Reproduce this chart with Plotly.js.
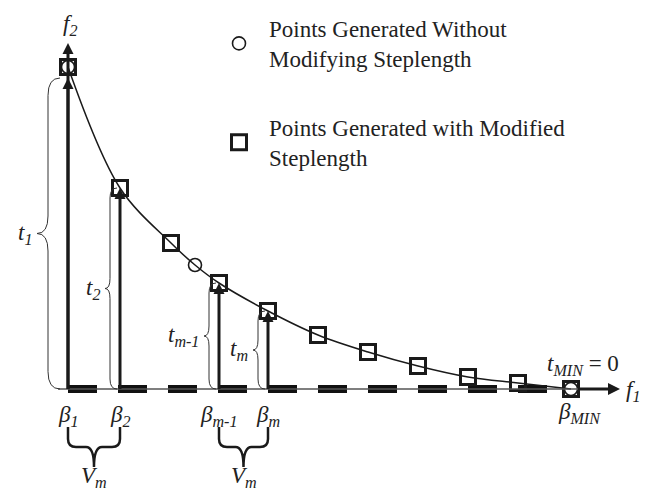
<!DOCTYPE html>
<html>
<head>
<meta charset="utf-8">
<script src="https://cdn.plot.ly/plotly-3.0.1.min.js"></script>
<style>html,body{margin:0;padding:0;background:#fff;}#chart{width:662px;height:490px;}</style>
</head>
<body>
<div id="chart"></div>
<script>
// ---- data (f1, f2 in diagram units) ----
const squareF1 = [0, 1.04, 2.06, 3.02, 4.0, 5.0, 6.0, 7.0, 8.0, 9.0, 10.06];
const squareF2 = [6.44, 4.02, 2.92, 2.12, 1.56, 1.08, 0.74, 0.46, 0.24, 0.12, 0];
const circleF1 = [0, 2.54, 10.06];
const circleF2 = [6.44, 2.48, 0];
const betaDashStart = [0, 1, 2, 3, 4, 5, 6, 7, 8, 9];
const betaDashLen = 0.58;
const arrowIdx = [0, 1, 3, 4];
const betaLabels = ['β<sub>1</sub>', 'β<sub>2</sub>', 'β<sub>m-1</sub>', 'β<sub>m</sub>'];
const tLabels = ['t<sub>1</sub>', 't<sub>2</sub>', 't<sub>m-1</sub>', 't<sub>m</sub>'];
const vPairs = [[0, 1], [3, 4]];
const legendNames = ['Points Generated Without<br>Modifying Steplength', 'Points Generated with Modified<br>Steplength'];
const f2AxisTop = 6.92;
const f1AxisEnd = 11.04;

// curve through all points
const curvePts = squareF1.map((x, i) => [x, squareF2[i]]);
circleF1.forEach((x, i) => { if (!curvePts.some(p => Math.abs(p[0] - x) < 1e-9)) curvePts.push([x, circleF2[i]]); });
curvePts.sort((a, b) => a[0] - b[0]);

const INK = '#1a1a1a';
const SERIF = 'Liberation Serif, Times New Roman, serif';

const shapes = [];
const annotations = [];
const tipX = [], tipY = [];

// thin f1 axis line
shapes.push({ type: 'line', xref: 'x', yref: 'y', x0: -0.2, y0: 0, x1: f1AxisEnd - 0.1, y1: 0, line: { color: '#555', width: 1.5 } });
shapes.push({ type: 'line', xref: 'x', yref: 'y', x0: 10.2, y0: 0, x1: f1AxisEnd - 0.1, y1: 0, line: { color: INK, width: 3 } });
// dashes
betaDashStart.forEach(d => shapes.push({ type: 'line', xref: 'x', yref: 'y', x0: d, y0: 0, x1: d + betaDashLen, y1: 0,
  line: { color: '#111', width: 8 }, layer: 'below' }));
// f2 axis
shapes.push({ type: 'line', xref: 'x', yref: 'y', x0: 0, y0: 0, x1: 0, y1: f2AxisTop - 0.1, line: { color: INK, width: 3 } });
tipX.push(0); tipY.push(f2AxisTop);

function vBrace(xLine, yTop, offEnd, offSpine, offTip, r) {
  const xe = xLine - offEnd, xs = xLine - offSpine, xt = xLine - offTip, ym = yTop / 2;
  return `M${xe},${yTop} Q${xs},${yTop} ${xs},${yTop - r} L${xs},${ym + r} Q${xs},${ym} ${xt},${ym} ` +
         `Q${xs},${ym} ${xs},${ym - r} L${xs},${r} Q${xs},0 ${xe},0`;
}
function hBrace(xa, xb, yEnd, ySpine, yTip, r) {
  const xm = (xa + xb) / 2;
  return `M${xa},${yEnd} L${xa},${ySpine + r} Q${xa},${ySpine} ${xa + r},${ySpine} L${xm - r},${ySpine} ` +
         `Q${xm},${ySpine} ${xm},${yTip} Q${xm},${ySpine} ${xm + r},${ySpine} L${xb - r},${ySpine} ` +
         `Q${xb},${ySpine} ${xb},${ySpine + r} L${xb},${yEnd}`;
}

const labFont = { family: SERIF, size: 23, color: '#222' };
arrowIdx.forEach((k, j) => {
  const x = squareF1[k];
  const ty = k === 0 ? squareF2[k] - 0.22 : squareF2[k];
  shapes.push({ type: 'line', xref: 'x', yref: 'y', x0: x, y0: 0, x1: x, y1: ty - 0.1, line: { color: INK, width: 3 } });
  tipX.push(x); tipY.push(ty);
  const big = k === 0;
  const offEnd = big ? 0.16 : 0.06, offSpine = big ? 0.4 : 0.2, offTip = big ? 0.62 : 0.3;
  shapes.push({ type: 'path', xref: 'x', yref: 'y', path: vBrace(x, ty, offEnd, offSpine, offTip, big ? 0.35 : 0.2),
    line: { color: '#333', width: 1 } });
  annotations.push({ x: x - offTip - 0.06, y: ty / 2, xref: 'x', yref: 'y', xanchor: 'right', yanchor: 'middle',
    text: '<i>' + tLabels[j] + '</i>', showarrow: false, font: labFont });
  annotations.push({ x: x, y: -0.54, xref: 'x', yref: 'y', xanchor: 'center', yanchor: 'middle',
    text: '<i>' + betaLabels[j] + '</i>', showarrow: false, font: labFont });
});

vPairs.forEach(p => {
  const xa = squareF1[p[0]], xb = squareF1[p[1]];
  shapes.push({ type: 'path', xref: 'x', yref: 'y', path: hBrace(xa, xb, -0.76, -1.16, -1.56, 0.16),
    line: { color: INK, width: 2.5 } });
  annotations.push({ x: (xa + xb) / 2, y: -1.43, xref: 'x', yref: 'y', xanchor: 'center', yanchor: 'top',
    text: '<i>V<sub>m</sub></i>', showarrow: false, font: labFont });
});

annotations.push({ x: 0.04, y: 7.28, xref: 'x', yref: 'y', text: '<i>f<sub>2</sub></i>', showarrow: false, font: labFont });
annotations.push({ x: 11.12, y: -0.04, xref: 'x', yref: 'y', xanchor: 'left', text: '<i>f<sub>1</sub></i>', showarrow: false, font: labFont });
annotations.push({ x: 10.3, y: 0.48, xref: 'x', yref: 'y', text: '<i>t<sub>MIN</sub></i> = 0', showarrow: false, font: labFont });
annotations.push({ x: 10.22, y: -0.48, xref: 'x', yref: 'y', text: '<i>β<sub>MIN</sub></i>', showarrow: false, font: labFont });

const traces = [
  { x: curvePts.map(p => p[0]), y: curvePts.map(p => p[1]), mode: 'lines',
    line: { color: INK, width: 1.5, shape: 'spline', smoothing: 1 }, showlegend: false, hoverinfo: 'skip' },
  { x: circleF1, y: circleF2, mode: 'markers', name: legendNames[0], legendgroup: 'c',
    marker: { symbol: 'circle-open', size: 13, color: INK, line: { width: 1.6, color: INK } } },
  { x: squareF1, y: squareF2, mode: 'markers', name: legendNames[1], legendgroup: 's',
    marker: { symbol: 'square-open', size: 15, color: INK, line: { width: 3, color: INK } } },
  { x: tipX, y: tipY, mode: 'markers', showlegend: false, hoverinfo: 'skip',
    marker: { symbol: 'arrow-up', size: 11, color: INK, line: { width: 0 } } },
  { x: [f1AxisEnd], y: [0], mode: 'markers', showlegend: false, hoverinfo: 'skip',
    marker: { symbol: 'arrow-right', size: 12, color: INK, line: { width: 0 } } }
];

const layout = {
  width: 662, height: 490,
  margin: { l: 0, r: 0, t: 0, b: 0 },
  paper_bgcolor: '#fff', plot_bgcolor: '#fff',
  xaxis: { range: [-1.36, 11.88], visible: false, fixedrange: true },
  yaxis: { range: [-2.02, 7.78], visible: false, fixedrange: true },
  showlegend: true,
  legend: { x: 209 / 662, y: 1 - 7 / 490, xanchor: 'left', yanchor: 'top', traceorder: 'grouped', tracegroupgap: 36,
    itemwidth: 50, font: { family: SERIF, size: 23, color: '#222' }, bgcolor: 'rgba(0,0,0,0)', valign: 'middle' },
  shapes: shapes,
  annotations: annotations
};

Plotly.newPlot('chart', traces, layout, { displayModeBar: false, staticPlot: true });
</script>
</body>
</html>
